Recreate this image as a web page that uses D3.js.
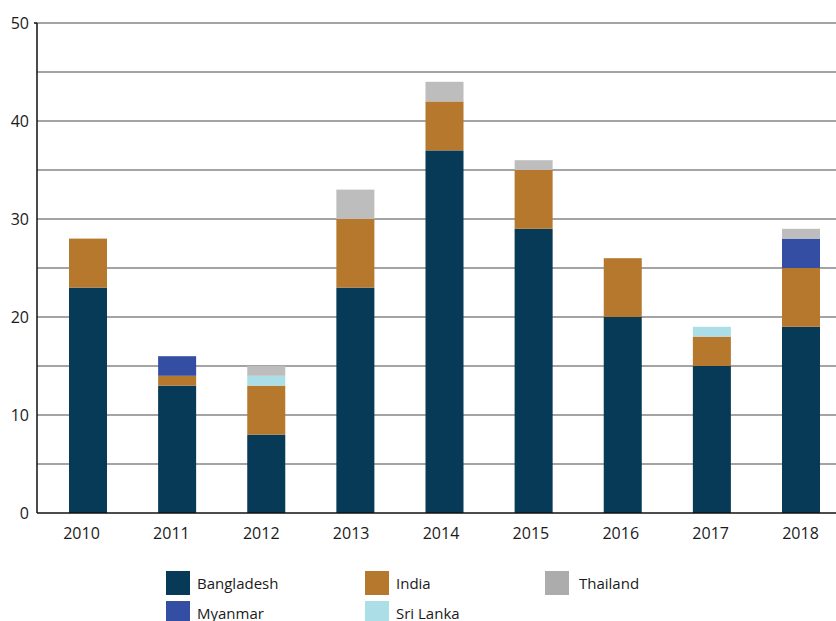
<!DOCTYPE html>
<html lang="en">
  <head>
    <meta charset="UTF-8" />
    <title>Stacked bars by country</title>
    <script src="https://d3js.org/d3.v7.min.js"></script>
    <style>
      body { margin: 0; background: #fff; }
      svg text { font-family: "Open Sans", "Noto Sans", sans-serif; fill: #1a1a1a; }
    </style>
  </head>
  <body>
    <svg id="chart" width="836" height="621"></svg>
    <script>
      const years = ["2010", "2011", "2012", "2013", "2014", "2015", "2016", "2017", "2018"];
      const bangladesh = [23, 13, 8, 23, 37, 29, 20, 15, 19];
      const india = [5, 1, 5, 7, 5, 6, 6, 3, 6];
      const myanmar = [0, 2, 0, 0, 0, 0, 0, 0, 3];
      const sriLanka = [0, 0, 1, 0, 0, 0, 0, 1, 0];
      const thailand = [0, 0, 1, 3, 2, 1, 0, 0, 1];
      const yTicks = [0, 10, 20, 30, 40, 50];

      // stacking order bottom -> top
      const series = [
        { name: "Bangladesh", values: bangladesh, color: "#063a56" },
        { name: "India", values: india, color: "#b5782d" },
        { name: "Sri Lanka", values: sriLanka, color: "#acdee7" },
        { name: "Myanmar", values: myanmar, color: "#344ea3" },
        { name: "Thailand", values: thailand, color: "#bdbdbd" }
      ];
      const legendItems = [
        { name: "Bangladesh", color: "#063a56", col: 0, row: 0 },
        { name: "India", color: "#b5782d", col: 1, row: 0 },
        { name: "Thailand", color: "#acacac", col: 2, row: 0 },
        { name: "Myanmar", color: "#344ea3", col: 0, row: 1 },
        { name: "Sri Lanka", color: "#acdee7", col: 1, row: 1 }
      ];
      const legendCols = [166, 365, 545];

      const svg = d3.select("#chart");
      const plotLeft = 37, plotRight = 836, plotTop = 23, plotBottom = 513;

      const x = d3.scaleBand().domain(years).range([37, 852]).paddingInner(0.5735).paddingOuter(0.359);
      // the year labels sit on a slightly wider spacing than the bars
      const xLabel = d3.scalePoint().domain(years).range([81, 800]);
      const y = d3.scaleLinear().domain([0, 50]).range([plotBottom, plotTop]);

      // grid lines every 5
      svg.append("g")
        .selectAll("line")
        .data(d3.range(5, 51, 5))
        .join("line")
        .attr("x1", plotLeft).attr("x2", plotRight)
        .attr("y1", d => y(d)).attr("y2", d => y(d))
        .attr("stroke", "#4a4a4a")
        .attr("stroke-width", 1.2);

      const rows = years.map((yr, i) => {
        const r = { year: yr };
        series.forEach(s => (r[s.name] = s.values[i]));
        return r;
      });
      const stack = d3.stack().keys(series.map(s => s.name))(rows);

      svg.append("g")
        .selectAll("g")
        .data(stack)
        .join("g")
        .attr("fill", (d, i) => series[i].color)
        .selectAll("rect")
        .data(d => d)
        .join("rect")
        .attr("x", d => x(d.data.year))
        .attr("width", x.bandwidth())
        .attr("y", d => y(d[1]))
        .attr("height", d => y(d[0]) - y(d[1]));

      // axes
      const yAxis = svg.append("g")
        .attr("transform", `translate(${plotLeft},0)`)
        .call(d3.axisLeft(y).tickValues(yTicks).tickSize(0).tickPadding(8));
      yAxis.select(".domain").remove();
      yAxis.selectAll("text").attr("font-size", 16).attr("font-family", "Open Sans");
      svg.append("line")
        .attr("x1", plotLeft).attr("x2", plotLeft).attr("y1", plotTop).attr("y2", plotBottom)
        .attr("stroke", "#111").attr("stroke-width", 1.5);
      svg.append("line")
        .attr("x1", plotLeft - 3).attr("x2", plotLeft).attr("y1", plotTop).attr("y2", plotTop)
        .attr("stroke", "#111").attr("stroke-width", 1.5);

      const xAxis = svg.append("g")
        .attr("transform", `translate(0,${plotBottom})`)
        .call(d3.axisBottom(xLabel).tickSize(0).tickPadding(15));
      xAxis.select(".domain").remove();
      xAxis.selectAll("text").attr("font-size", 16).attr("font-family", "Open Sans");
      svg.append("line")
        .attr("x1", plotLeft).attr("x2", plotRight).attr("y1", plotBottom).attr("y2", plotBottom)
        .attr("stroke", "#111").attr("stroke-width", 1.5);

      // legend
      const legend = svg.append("g")
        .selectAll("g")
        .data(legendItems)
        .join("g")
        .attr("transform", d => `translate(${legendCols[d.col]},${571 + d.row * 30})`);
      legend.append("rect").attr("width", 24).attr("height", 24).attr("fill", d => d.color);
      legend.append("text")
        .attr("x", d => (d.col === 2 ? 34 : 31)).attr("y", 18)
        .attr("font-size", 15)
        .text(d => d.name);
    </script>
  </body>
</html>
